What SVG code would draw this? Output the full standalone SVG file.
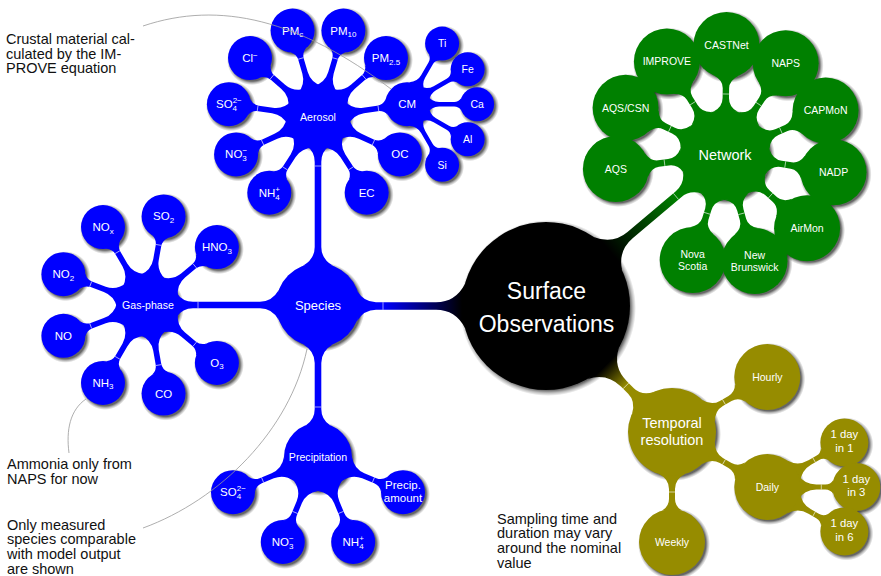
<svg xmlns="http://www.w3.org/2000/svg" width="881" height="576" viewBox="0 0 881 576">
<style>
.lab{font-family:"Liberation Sans",Arial,sans-serif;fill:#fff;text-anchor:middle}
.f23{font-size:23px}.f14{font-size:14.5px}.f13{font-size:13px}.f10{font-size:10.6px}.f11{font-size:11.5px}.fs{font-size:10.5px}.fd{font-size:11.3px}
.sb{font-size:8px}
.note{font-family:"Liberation Sans",Arial,sans-serif;font-size:14.5px;fill:#111}
.ann{fill:none;stroke:#999;stroke-width:0.8}
.tick{stroke:#fff;stroke-width:0.7;stroke-opacity:0.85}
.blue{fill:#0000ff}.green{fill:#008000}.olive{fill:#968c00}.black{fill:#000}
.sR{fill:url(#sR)}.sL{fill:url(#sL)}.sM{fill:url(#sM)}.sS{fill:url(#sS)}.sX{fill:url(#sX)}
</style>
<defs>
<radialGradient id="sR"><stop offset="0.932" stop-color="#000" stop-opacity="0.6"/><stop offset="0.966" stop-color="#000" stop-opacity="0.25"/><stop offset="1" stop-color="#000" stop-opacity="0"/></radialGradient>
<radialGradient id="sL"><stop offset="0.91" stop-color="#000" stop-opacity="0.6"/><stop offset="0.955" stop-color="#000" stop-opacity="0.25"/><stop offset="1" stop-color="#000" stop-opacity="0"/></radialGradient>
<radialGradient id="sM"><stop offset="0.885" stop-color="#000" stop-opacity="0.6"/><stop offset="0.94" stop-color="#000" stop-opacity="0.25"/><stop offset="1" stop-color="#000" stop-opacity="0"/></radialGradient>
<radialGradient id="sS"><stop offset="0.84" stop-color="#000" stop-opacity="0.6"/><stop offset="0.92" stop-color="#000" stop-opacity="0.25"/><stop offset="1" stop-color="#000" stop-opacity="0"/></radialGradient>
<radialGradient id="sX"><stop offset="0.8" stop-color="#000" stop-opacity="0.6"/><stop offset="0.9" stop-color="#000" stop-opacity="0.25"/><stop offset="1" stop-color="#000" stop-opacity="0"/></radialGradient>
<linearGradient id="gB" gradientUnits="userSpaceOnUse" x1="84" y1="0" x2="163" y2="0"><stop offset="0" stop-color="#000"/><stop offset="1" stop-color="#0000ff"/></linearGradient>
<linearGradient id="gG" gradientUnits="userSpaceOnUse" x1="84" y1="0" x2="170" y2="0"><stop offset="0" stop-color="#000"/><stop offset="1" stop-color="#008000"/></linearGradient>
<linearGradient id="gO" gradientUnits="userSpaceOnUse" x1="84" y1="0" x2="113" y2="0"><stop offset="0" stop-color="#000"/><stop offset="1" stop-color="#968c00"/></linearGradient>
<g id="c3"><path d="M28.14,-13 Q34.75,-2.8 46,-2.8 L60,-2.8 Q66,-2.8 69.51,-8 L69.51,8 Q66,2.8 60,2.8 L46,2.8 Q34.75,2.8 28.14,13 Z"/><line class="tick" x1="61" y1="-2.8" x2="61" y2="2.8"/></g>
<g id="c3p"><path d="M31.42,-13 Q37.75,-2.8 49,-2.8 L62,-2.8 Q68,-2.8 71.51,-8 L71.51,8 Q68,2.8 62,2.8 L49,2.8 Q37.75,2.8 31.42,13 Z"/><line class="tick" x1="60" y1="-2.8" x2="60" y2="2.8"/></g>
<g id="c4"><path d="M20.07,-9 Q24.5,-2.3 32,-2.3 L47,-2.3 Q51.5,-2.3 54.09,-6 L54.09,6 Q51.5,2.3 47,2.3 L32,2.3 Q24.5,2.3 20.07,9 Z"/></g>
<g id="cg"><path d="M43.37,-12 Q48,-3.2 57,-3.2 L67,-3.2 Q74.5,-3.2 79.26,-12 L79.26,12 Q74.5,3.2 67,3.2 L57,3.2 Q48,3.2 43.37,12 Z"/><line class="tick" x1="61" y1="-3.2" x2="61" y2="3.2"/></g>
<g id="ct"><path d="M42.04,-13 Q47.25,-3 57,-3 L67,-3 Q74.5,-3 78.55,-10 L78.55,10 Q74.5,3 67,3 L57,3 Q47.25,3 42.04,13 Z"/><line class="tick" x1="60" y1="-3" x2="60" y2="3"/></g>
<g id="cd"><path d="M30.33,-13 Q37,-2.5 49,-2.5 L58,-2.5 Q63.25,-2.5 66.04,-7 L66.04,7 Q63.25,2.5 58,2.5 L49,2.5 Q37,2.5 30.33,13 Z"/><line class="tick" x1="54" y1="-2.5" x2="54" y2="2.5"/></g>
</defs>

<g id="shadows">
 <circle class="sR" cx="548" cy="308" r="88"/>
 <circle class="sL" cx="320" cy="307" r="45"/>
 <circle class="sM" cx="150" cy="307" r="34"/>
 <circle class="sM" cx="320" cy="119" r="34"/>
 <circle class="sM" cx="320" cy="459" r="37"/>
 <circle class="sS" cx="218.9" cy="249.1" r="25"/>
 <circle class="sS" cx="165.6" cy="218.4" r="25"/>
 <circle class="sS" cx="105" cy="229.1" r="25"/>
 <circle class="sS" cx="65.4" cy="276.2" r="25"/>
 <circle class="sS" cx="65.4" cy="337.8" r="25"/>
 <circle class="sS" cx="105" cy="384.9" r="25"/>
 <circle class="sS" cx="165.6" cy="395.6" r="25"/>
 <circle class="sS" cx="218.9" cy="364.9" r="25"/>
 <circle class="sS" cx="368.7" cy="194.7" r="25"/>
 <circle class="sS" cx="401.9" cy="156.4" r="25"/>
 <circle class="sS" cx="409.1" cy="106.2" r="25"/>
 <circle class="sS" cx="388" cy="60.1" r="25"/>
 <circle class="sS" cx="345.4" cy="32.6" r="25"/>
 <circle class="sS" cx="294.6" cy="32.6" r="25"/>
 <circle class="sS" cx="252" cy="60.1" r="25"/>
 <circle class="sS" cx="230.9" cy="106.2" r="25"/>
 <circle class="sS" cx="238.1" cy="156.4" r="25"/>
 <circle class="sS" cx="271.3" cy="194.7" r="25"/>
 <circle class="sX" cx="444.1" cy="45.6" r="20"/>
 <circle class="sX" cx="469.7" cy="71.2" r="20"/>
 <circle class="sX" cx="479.1" cy="106.2" r="20"/>
 <circle class="sX" cx="469.7" cy="141.2" r="20"/>
 <circle class="sX" cx="444.1" cy="166.8" r="20"/>
 <circle class="sS" cx="235" cy="494.2" r="25"/>
 <circle class="sS" cx="284.8" cy="544" r="25"/>
 <circle class="sS" cx="355.2" cy="544" r="25"/>
 <circle class="sS" cx="405" cy="494.2" r="25"/>
 <circle class="sL" cx="727" cy="157" r="48"/>
 <circle class="sM" cx="617.9" cy="171" r="36"/>
 <circle class="sM" cx="627.6" cy="109.8" r="36"/>
 <circle class="sM" cx="668.9" cy="63.6" r="36"/>
 <circle class="sM" cx="728.5" cy="47" r="36"/>
 <circle class="sM" cx="787.7" cy="65.3" r="36"/>
 <circle class="sM" cx="827.6" cy="112.6" r="36"/>
 <circle class="sM" cx="835.6" cy="174.2" r="36"/>
 <circle class="sM" cx="809.1" cy="230.2" r="36"/>
 <circle class="sM" cx="756.6" cy="263" r="36"/>
 <circle class="sM" cx="694.7" cy="262.1" r="36"/>
 <circle class="sL" cx="674" cy="434" r="47"/>
 <circle class="sM" cx="769.3" cy="379" r="36"/>
 <circle class="sM" cx="769.3" cy="489" r="36"/>
 <circle class="sM" cx="674" cy="544" r="36"/>
 <circle class="sS" cx="846.4" cy="444.5" r="27"/>
 <circle class="sS" cx="858.3" cy="489" r="27"/>
 <circle class="sS" cx="846.4" cy="533.5" r="27"/>
</g>

<g id="connectors">
 <g transform="translate(546,306) rotate(180)">
  <path fill="url(#gB)" d="M81.07,-22 Q90.5,-3.8 110,-3.8 L170,-3.8 Q182,-3.8 188.77,-15 L188.77,15 Q182,3.8 170,3.8 L110,3.8 Q90.5,3.8 81.07,22 Z"/>
  <line class="tick" x1="163" y1="-3.8" x2="163" y2="3.8"/>
 </g>
 <g transform="translate(546,306) rotate(-40.15)">
  <path fill="url(#gG)" d="M81.07,-22 Q90.5,-4 110,-4 L173.2,-4 Q185.2,-4 191.77,-15 L191.77,15 Q185.2,4 173.2,4 L110,4 Q90.5,4 81.07,22 Z"/>
  <line class="tick" x1="170" y1="-4" x2="170" y2="4"/>
 </g>
 <g transform="translate(546,306) rotate(45)">
  <path fill="url(#gO)" d="M81.07,-22 Q90.5,-4 110,-4 L120.2,-4 Q130.7,-4 136.84,-15 L136.84,15 Q130.7,4 120.2,4 L110,4 Q90.5,4 81.07,22 Z"/>
  <line class="tick" x1="113" y1="-4" x2="113" y2="4"/>
 </g>
 <g class="blue">
  <g transform="translate(318,305) rotate(180)">
   <path d="M39.23,-15 Q46,-3.3 58,-3.3 L125,-3.3 Q135.5,-3.3 141.42,-12 L141.42,12 Q135.5,3.3 125,3.3 L58,3.3 Q46,3.3 39.23,15 Z"/>
   <line class="tick" x1="120" y1="-3.3" x2="120" y2="3.3"/>
  </g>
  <g transform="translate(318,305) rotate(-90)">
   <path d="M39.23,-15 Q46,-3.3 58,-3.3 L143,-3.3 Q153.5,-3.3 159.42,-12 L159.42,12 Q153.5,3.3 143,3.3 L58,3.3 Q46,3.3 39.23,15 Z"/>
   <line class="tick" x1="139" y1="-3.3" x2="139" y2="3.3"/>
  </g>
  <g transform="translate(318,305) rotate(90)">
   <path d="M39.23,-15 Q46,-3.3 58,-3.3 L104,-3.3 Q114.5,-3.3 120.19,-12 L120.19,12 Q114.5,3.3 104,3.3 L58,3.3 Q46,3.3 39.23,15 Z"/>
   <line class="tick" x1="102" y1="-3.3" x2="102" y2="3.3"/>
  </g>
  <use href="#c3" transform="translate(148,305) rotate(-40)"/>
  <use href="#c3" transform="translate(148,305) rotate(-80)"/>
  <use href="#c3" transform="translate(148,305) rotate(-120)"/>
  <use href="#c3" transform="translate(148,305) rotate(-160)"/>
  <use href="#c3" transform="translate(148,305) rotate(160)"/>
  <use href="#c3" transform="translate(148,305) rotate(120)"/>
  <use href="#c3" transform="translate(148,305) rotate(80)"/>
  <use href="#c3" transform="translate(148,305) rotate(40)"/>
  <use href="#c3" transform="translate(318,117) rotate(57.27)"/>
  <use href="#c3" transform="translate(318,117) rotate(24.55)"/>
  <use href="#c3" transform="translate(318,117) rotate(-8.18)"/>
  <use href="#c3" transform="translate(318,117) rotate(-40.91)"/>
  <use href="#c3" transform="translate(318,117) rotate(-73.64)"/>
  <use href="#c3" transform="translate(318,117) rotate(-106.36)"/>
  <use href="#c3" transform="translate(318,117) rotate(-139.09)"/>
  <use href="#c3" transform="translate(318,117) rotate(-171.82)"/>
  <use href="#c3" transform="translate(318,117) rotate(155.45)"/>
  <use href="#c3" transform="translate(318,117) rotate(122.73)"/>
  <use href="#c4" transform="translate(407.1,104.2) rotate(-60)"/>
  <use href="#c4" transform="translate(407.1,104.2) rotate(-30)"/>
  <use href="#c4" transform="translate(407.1,104.2) rotate(0)"/>
  <use href="#c4" transform="translate(407.1,104.2) rotate(30)"/>
  <use href="#c4" transform="translate(407.1,104.2) rotate(60)"/>
  <use href="#c3p" transform="translate(318,457) rotate(157.5)"/>
  <use href="#c3p" transform="translate(318,457) rotate(112.5)"/>
  <use href="#c3p" transform="translate(318,457) rotate(67.5)"/>
  <use href="#c3p" transform="translate(318,457) rotate(22.5)"/>
 </g>
 <g class="green">
  <use href="#cg" transform="translate(725,155) rotate(107.1)"/>
  <use href="#cg" transform="translate(725,155) rotate(74.4)"/>
  <use href="#cg" transform="translate(725,155) rotate(41.7)"/>
  <use href="#cg" transform="translate(725,155) rotate(9)"/>
  <use href="#cg" transform="translate(725,155) rotate(-23.8)"/>
  <use href="#cg" transform="translate(725,155) rotate(-56.5)"/>
  <use href="#cg" transform="translate(725,155) rotate(-89.2)"/>
  <use href="#cg" transform="translate(725,155) rotate(-121.9)"/>
  <use href="#cg" transform="translate(725,155) rotate(-154.6)"/>
  <use href="#cg" transform="translate(725,155) rotate(-187.3)"/>
 </g>
 <g class="olive">
  <use href="#ct" transform="translate(672,432) rotate(-30)"/>
  <use href="#ct" transform="translate(672,432) rotate(30)"/>
  <use href="#ct" transform="translate(672,432) rotate(90)"/>
  <use href="#cd" transform="translate(767.3,487) rotate(-30)"/>
  <use href="#cd" transform="translate(767.3,487) rotate(0)"/>
  <use href="#cd" transform="translate(767.3,487) rotate(30)"/>
 </g>
</g>

<g id="nodes">
 <g id="n-root"><circle class="black" cx="546" cy="306" r="84"/><text class="lab f23" x="546.5" y="299">Surface</text><text class="lab f23" x="546.5" y="331.5">Observations</text></g>

 <g id="n-species"><circle class="blue" cx="318" cy="305" r="42"/><text class="lab f13" x="318" y="309.7">Species</text></g>
 <g id="n-gas"><circle class="blue" cx="148" cy="305" r="31"/><text class="lab f10" x="148" y="308.8">Gas-phase</text></g>
 <g id="n-aerosol"><circle class="blue" cx="318" cy="117" r="31"/><text class="lab f10" x="318" y="120.8">Aerosol</text></g>
 <g id="n-precip"><circle class="blue" cx="318" cy="457" r="34"/><text class="lab f10" x="318" y="460.8">Precipitation</text></g>

 <g id="n-hno3"><circle class="blue" cx="216.9" cy="247.1" r="22"/><text class="lab f11" x="216.9" y="251.1">HNO<tspan class="sb" dy="2.5">3</tspan></text></g>
 <g id="n-so2"><circle class="blue" cx="163.6" cy="216.4" r="22"/><text class="lab f11" x="163.6" y="220.4">SO<tspan class="sb" dy="2.5">2</tspan></text></g>
 <g id="n-nox"><circle class="blue" cx="103" cy="227.1" r="22"/><text class="lab f11" x="103" y="231.1">NO<tspan class="sb" dy="2.5">x</tspan></text></g>
 <g id="n-no2"><circle class="blue" cx="63.4" cy="274.2" r="22"/><text class="lab f11" x="63.4" y="278.2">NO<tspan class="sb" dy="2.5">2</tspan></text></g>
 <g id="n-no"><circle class="blue" cx="63.4" cy="335.8" r="22"/><text class="lab f11" x="63.4" y="339.8">NO</text></g>
 <g id="n-nh3"><circle class="blue" cx="103" cy="382.9" r="22"/><text class="lab f11" x="103" y="386.9">NH<tspan class="sb" dy="2.5">3</tspan></text></g>
 <g id="n-co"><circle class="blue" cx="163.6" cy="393.6" r="22"/><text class="lab f11" x="163.6" y="397.6">CO</text></g>
 <g id="n-o3"><circle class="blue" cx="216.9" cy="362.9" r="22"/><text class="lab f11" x="216.9" y="366.9">O<tspan class="sb" dy="2.5">3</tspan></text></g>

 <g id="n-ec"><circle class="blue" cx="366.7" cy="192.7" r="22"/><text class="lab f11" x="366.7" y="196.7">EC</text></g>
 <g id="n-oc"><circle class="blue" cx="399.9" cy="154.4" r="22"/><text class="lab f11" x="399.9" y="158.4">OC</text></g>
 <g id="n-cm"><circle class="blue" cx="407.1" cy="104.2" r="22"/><text class="lab f11" x="407.1" y="108.2">CM</text></g>
 <g id="n-pm25"><circle class="blue" cx="386" cy="58.1" r="22"/><text class="lab f11" x="386" y="62.1">PM<tspan class="sb" dy="2.5">2.5</tspan></text></g>
 <g id="n-pm10"><circle class="blue" cx="343.4" cy="30.6" r="22"/><text class="lab f11" x="343.4" y="34.6">PM<tspan class="sb" dy="2.5">10</tspan></text></g>
 <g id="n-pmc"><circle class="blue" cx="292.6" cy="30.6" r="22"/><text class="lab f11" x="292.6" y="34.6">PM<tspan class="sb" dy="2.5">c</tspan></text></g>
 <g id="n-cl"><circle class="blue" cx="250" cy="58.1" r="22"/><text class="lab f11" x="250" y="62.1">Cl<tspan class="sb" dy="-4.5">−</tspan></text></g>
 <g id="n-so4a"><circle class="blue" cx="228.9" cy="104.2" r="22"/><text class="lab f11" x="228.9" y="108.2">SO<tspan class="sb" dy="3">4</tspan><tspan class="sb" dx="-4.4" dy="-8">2−</tspan></text></g>
 <g id="n-no3a"><circle class="blue" cx="236.1" cy="154.4" r="22"/><text class="lab f11" x="236.1" y="158.4">NO<tspan class="sb" dy="3">3</tspan><tspan class="sb" dx="-4.4" dy="-8">−</tspan></text></g>
 <g id="n-nh4a"><circle class="blue" cx="269.3" cy="192.7" r="22"/><text class="lab f11" x="269.3" y="196.7">NH<tspan class="sb" dy="3">4</tspan><tspan class="sb" dx="-4.4" dy="-8">+</tspan></text></g>

 <g id="n-ti"><circle class="blue" cx="442.1" cy="43.6" r="17"/><text class="lab fs" x="442.1" y="47.4">Ti</text></g>
 <g id="n-fe"><circle class="blue" cx="467.7" cy="69.2" r="17"/><text class="lab fs" x="467.7" y="73">Fe</text></g>
 <g id="n-ca"><circle class="blue" cx="477.1" cy="104.2" r="17"/><text class="lab fs" x="477.1" y="108">Ca</text></g>
 <g id="n-al"><circle class="blue" cx="467.7" cy="139.2" r="17"/><text class="lab fs" x="467.7" y="143">Al</text></g>
 <g id="n-si"><circle class="blue" cx="442.1" cy="164.8" r="17"/><text class="lab fs" x="442.1" y="168.6">Si</text></g>

 <g id="n-so4p"><circle class="blue" cx="233" cy="492.2" r="22"/><text class="lab f11" x="233" y="496.2">SO<tspan class="sb" dy="3">4</tspan><tspan class="sb" dx="-4.4" dy="-8">2−</tspan></text></g>
 <g id="n-no3p"><circle class="blue" cx="282.8" cy="542" r="22"/><text class="lab f11" x="282.8" y="546">NO<tspan class="sb" dy="3">3</tspan><tspan class="sb" dx="-4.4" dy="-8">−</tspan></text></g>
 <g id="n-nh4p"><circle class="blue" cx="353.2" cy="542" r="22"/><text class="lab f11" x="353.2" y="546">NH<tspan class="sb" dy="3">4</tspan><tspan class="sb" dx="-4.4" dy="-8">+</tspan></text></g>
 <g id="n-amount"><circle class="blue" cx="403" cy="492.2" r="22"/><text class="lab f11" x="403" y="489.3">Precip.</text><text class="lab f11" x="403" y="501.7">amount</text></g>

 <g id="n-network"><circle class="green" cx="725" cy="155" r="45"/><text class="lab f14" x="725" y="160.2">Network</text></g>
 <g id="n-aqs"><circle class="green" cx="615.9" cy="169" r="33"/><text class="lab fs" x="615.9" y="172.8">AQS</text></g>
 <g id="n-aqscsn"><circle class="green" cx="625.6" cy="107.8" r="33"/><text class="lab fs" x="625.6" y="111.6">AQS/CSN</text></g>
 <g id="n-improve"><circle class="green" cx="666.9" cy="61.6" r="33"/><text class="lab fs" x="666.9" y="65.4">IMPROVE</text></g>
 <g id="n-castnet"><circle class="green" cx="726.5" cy="45" r="33"/><text class="lab fs" x="726.5" y="48.8">CASTNet</text></g>
 <g id="n-naps"><circle class="green" cx="785.7" cy="63.3" r="33"/><text class="lab fs" x="785.7" y="67.1">NAPS</text></g>
 <g id="n-capmon"><circle class="green" cx="825.6" cy="110.6" r="33"/><text class="lab fs" x="825.6" y="114.4">CAPMoN</text></g>
 <g id="n-nadp"><circle class="green" cx="833.6" cy="172.2" r="33"/><text class="lab fs" x="833.6" y="176">NADP</text></g>
 <g id="n-airmon"><circle class="green" cx="807.1" cy="228.2" r="33"/><text class="lab fs" x="807.1" y="232">AirMon</text></g>
 <g id="n-nb"><circle class="green" cx="754.6" cy="261" r="33"/><text class="lab fs" x="754.6" y="258.7">New</text><text class="lab fs" x="754.6" y="270.9">Brunswick</text></g>
 <g id="n-ns"><circle class="green" cx="692.7" cy="260.1" r="33"/><text class="lab fs" x="692.7" y="257.8">Nova</text><text class="lab fs" x="692.7" y="270">Scotia</text></g>

 <g id="n-temporal"><circle class="olive" cx="672" cy="432" r="44"/><text class="lab f14" x="672" y="427.7">Temporal</text><text class="lab f14" x="672" y="445">resolution</text></g>
 <g id="n-hourly"><circle class="olive" cx="767.3" cy="377" r="33"/><text class="lab fs" x="767.3" y="380.8">Hourly</text></g>
 <g id="n-daily"><circle class="olive" cx="767.3" cy="487" r="33"/><text class="lab fs" x="767.3" y="490.8">Daily</text></g>
 <g id="n-weekly"><circle class="olive" cx="672" cy="542" r="33"/><text class="lab fs" x="672" y="545.8">Weekly</text></g>
 <g id="n-d1"><circle class="olive" cx="844.4" cy="442.5" r="24"/><text class="lab fd" x="844.4" y="438.3">1 day</text><text class="lab fd" x="844.4" y="451.7">in 1</text></g>
 <g id="n-d3"><circle class="olive" cx="856.3" cy="487" r="24"/><text class="lab fd" x="856.3" y="482.8">1 day</text><text class="lab fd" x="856.3" y="496.2">in 3</text></g>
 <g id="n-d6"><circle class="olive" cx="844.4" cy="531.5" r="24"/><text class="lab fd" x="844.4" y="527.3">1 day</text><text class="lab fd" x="844.4" y="540.7">in 6</text></g>
</g>

<g id="annotations">
 <path class="ann" d="M143,26 C220,0 300,20 391,89"/>
 <path class="ann" d="M69,453 C66,430 70,410 86,399"/>
 <path class="ann" d="M143,528 C220,500 290,430 307,349"/>
 <text class="note" x="6" y="44">Crustal material cal-</text>
 <text class="note" x="6" y="58.7">culated by the IM-</text>
 <text class="note" x="6" y="73.4">PROVE equation</text>
 <text class="note" x="7" y="469.3">Ammonia only from</text>
 <text class="note" x="7" y="484">NAPS for now</text>
 <text class="note" x="7" y="529.5">Only measured</text>
 <text class="note" x="7" y="544.2">species comparable</text>
 <text class="note" x="7" y="558.9">with model output</text>
 <text class="note" x="7" y="573.6">are shown</text>
 <text class="note" x="497" y="523.5">Sampling time and</text>
 <text class="note" x="497" y="538.2">duration may vary</text>
 <text class="note" x="497" y="552.9">around the nominal</text>
 <text class="note" x="497" y="567.6">value</text>
</g>
</svg>
